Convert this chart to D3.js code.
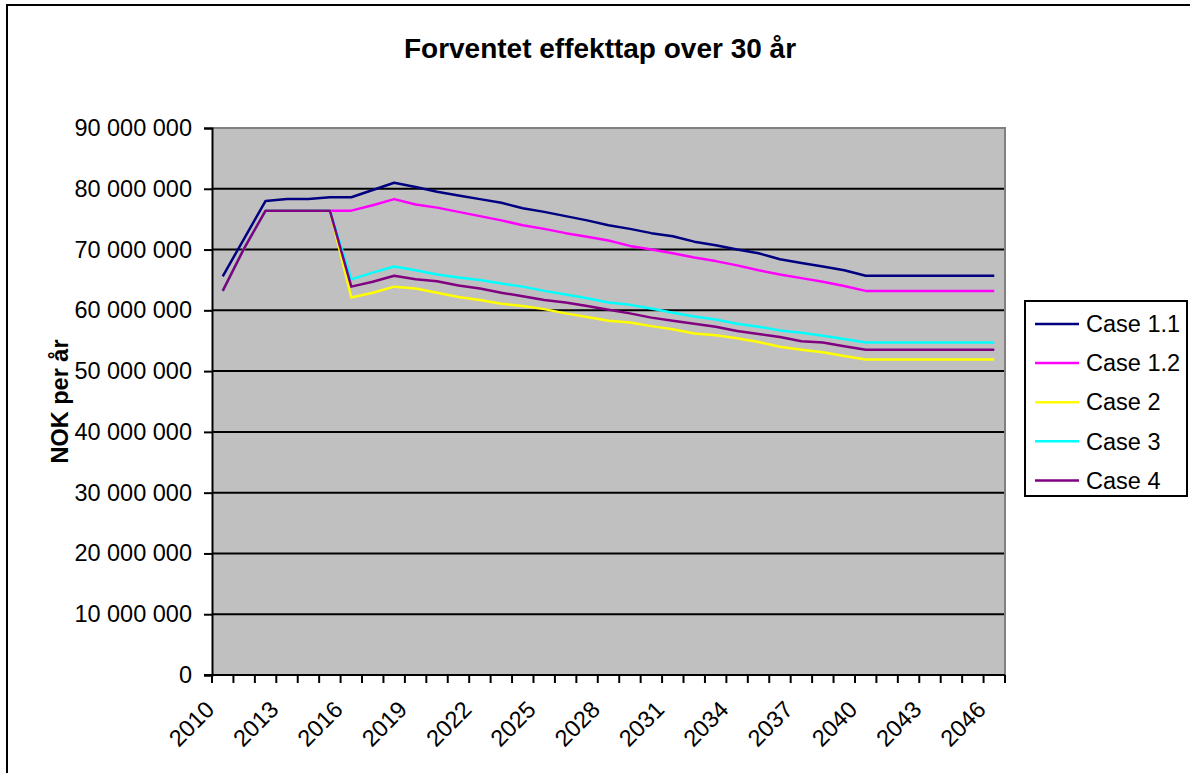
<!DOCTYPE html>
<html>
<head>
<meta charset="utf-8">
<script src="https://cdn.jsdelivr.net/npm/d3@7"></script>
<style>
  html, body { margin: 0; padding: 0; background: #fff; }
  svg { display: block; font-family: Arial, "Liberation Sans", sans-serif; }
</style>
</head>
<body>
<svg id="chart" width="1190" height="773"></svg>
<script>
// Years on the category axis
const years = d3.range(2010, 2047);
// Tick labels shown every third year
const tickYears = [2010, 2013, 2016, 2019, 2022, 2025, 2028, 2031, 2034, 2037, 2040, 2043, 2046];
// Y tick values
const yTicks = [0, 10e6, 20e6, 30e6, 40e6, 50e6, 60e6, 70e6, 80e6, 90e6];

const seriesNames = ["Case 1.1", "Case 1.2", "Case 2", "Case 3", "Case 4"];
const seriesColors = ["#000080", "#FF00FF", "#FFFF00", "#00FFFF", "#800080"];

// Expected loss per year, millions NOK
const case11 = [65.6, 71.8, 78.0, 78.3, 78.3, 78.6, 78.6, 79.8, 81.0, 80.3, 79.5, 78.9, 78.3,
  77.7, 76.8, 76.2, 75.5, 74.8, 74.0, 73.4, 72.7, 72.2, 71.3, 70.7, 70.0, 69.4,
  68.4, 67.8, 67.2, 66.6, 65.7, 65.7, 65.7, 65.7, 65.7, 65.7, 65.7];
const case12 = [63.2, 70.2, 76.4, 76.4, 76.4, 76.4, 76.4, 77.3, 78.3, 77.4, 76.9, 76.2, 75.5,
  74.8, 74.0, 73.4, 72.7, 72.1, 71.5, 70.6, 70.0, 69.4, 68.7, 68.1, 67.4, 66.6,
  65.9, 65.3, 64.7, 64.0, 63.2, 63.2, 63.2, 63.2, 63.2, 63.2, 63.2];
const case2 = [63.2, 70.2, 76.4, 76.4, 76.4, 76.4, 62.1, 62.9, 63.9, 63.6, 62.9, 62.2, 61.7,
  61.1, 60.7, 60.2, 59.5, 58.9, 58.3, 58.0, 57.4, 56.9, 56.2, 55.9, 55.4, 54.8,
  54.0, 53.5, 53.1, 52.5, 51.9, 51.9, 51.9, 51.9, 51.9, 51.9, 51.9];
const case3 = [63.2, 70.2, 76.4, 76.4, 76.4, 76.4, 65.1, 66.2, 67.2, 66.6, 65.9, 65.4, 65.0,
  64.4, 63.9, 63.2, 62.6, 62.0, 61.3, 60.9, 60.3, 59.6, 59.0, 58.5, 57.8, 57.3,
  56.7, 56.3, 55.8, 55.3, 54.7, 54.7, 54.7, 54.7, 54.7, 54.7, 54.7];
const case4 = [63.2, 70.2, 76.4, 76.4, 76.4, 76.4, 63.9, 64.7, 65.7, 65.1, 64.8, 64.1, 63.6,
  62.9, 62.3, 61.7, 61.3, 60.7, 60.1, 59.5, 58.8, 58.3, 57.8, 57.3, 56.6, 56.1,
  55.6, 54.9, 54.7, 54.1, 53.5, 53.5, 53.5, 53.5, 53.5, 53.5, 53.5];

const seriesValues = [case11, case12, case2, case3, case4];
const series = seriesNames.map((name, i) => ({
  name, color: seriesColors[i],
  points: years.map((yr, j) => ({ year: yr, value: seriesValues[i][j] * 1e6 }))
}));

const svg = d3.select("#chart");
const plot = { left: 212, right: 1005, top: 128, bottom: 675 };
const labelSize = 23.5;

const x = d3.scaleBand().domain(years).range([plot.left, plot.right]).padding(0);
const y = d3.scaleLinear().domain([0, 90e6]).range([plot.bottom, plot.top]);
const cx = d => x(d) + x.bandwidth() / 2;

const nbFormat = d3.formatLocale({ decimal: ",", thousands: " ", grouping: [3], currency: ["", ""] }).format(",d");

// Outer chart border
svg.append("rect").attr("x", 7).attr("y", 5).attr("width", 1200).attr("height", 800)
  .attr("fill", "none").attr("stroke", "#000").attr("stroke-width", 2);

// Plot background
svg.append("rect").attr("x", plot.left).attr("y", plot.top)
  .attr("width", plot.right - plot.left).attr("height", plot.bottom - plot.top)
  .attr("fill", "#C0C0C0");

// Horizontal gridlines
svg.append("g").selectAll("line").data(yTicks.filter(v => v > 0 && v < 90e6)).join("line")
  .attr("x1", plot.left).attr("x2", plot.right)
  .attr("y1", d => y(d)).attr("y2", d => y(d))
  .attr("stroke", "#000").attr("stroke-width", 2);

// Plot frame (top and right)
svg.append("path")
  .attr("d", `M${plot.left},${plot.top}H${plot.right}V${plot.bottom}`)
  .attr("fill", "none").attr("stroke", "#808080").attr("stroke-width", 2);

// Y axis
const yAxis = d3.axisLeft(y).tickValues(yTicks).tickSize(8).tickPadding(12).tickFormat(nbFormat);
const gy = svg.append("g").attr("transform", `translate(${plot.left},0)`).call(yAxis);
gy.select(".domain").attr("stroke", "#000").attr("stroke-width", 2);
gy.selectAll(".tick line").attr("stroke", "#000").attr("stroke-width", 2);
gy.selectAll(".tick text").attr("font-size", labelSize).attr("fill", "#000")
  .attr("font-family", "Arial, 'Liberation Sans', sans-serif");

// X axis: ticks between categories
const edges = years.map(d => x(d)).concat([plot.right]);
const gx = svg.append("g");
gx.selectAll("line.tick").data(edges).join("line")
  .attr("x1", d => d).attr("x2", d => d)
  .attr("y1", plot.bottom).attr("y2", plot.bottom + 8)
  .attr("stroke", "#000").attr("stroke-width", 2);
gx.append("line").attr("x1", plot.left - 8).attr("x2", plot.right)
  .attr("y1", plot.bottom).attr("y2", plot.bottom)
  .attr("stroke", "#000").attr("stroke-width", 2);
gx.selectAll("text").data(tickYears).join("text")
  .attr("transform", d => `translate(${cx(d) - 7},${plot.bottom + 36}) rotate(-45)`)
  .attr("text-anchor", "end")
  .attr("font-size", labelSize).attr("fill", "#000")
  .text(d => d);

// Series lines
const line = d3.line().x(d => cx(d.year)).y(d => y(d.value));
svg.append("g").selectAll("path").data(series).join("path")
  .attr("d", d => line(d.points))
  .attr("fill", "none").attr("stroke", d => d.color)
  .attr("stroke-width", 2.5).attr("stroke-linejoin", "round");

// Title
svg.append("text").attr("x", 600).attr("y", 58).attr("text-anchor", "middle")
  .attr("font-size", 28).attr("font-weight", "bold").text("Forventet effekttap over 30 år");

// Y axis title
svg.append("text").attr("transform", `translate(68,${(plot.top + plot.bottom) / 2}) rotate(-90)`)
  .attr("text-anchor", "middle").attr("font-size", labelSize).attr("font-weight", "bold")
  .text("NOK per år");

// Legend
const lg = svg.append("g");
lg.append("rect").attr("x", 1025).attr("y", 301).attr("width", 162).attr("height", 195)
  .attr("fill", "#fff").attr("stroke", "#000").attr("stroke-width", 2);
const rows = lg.selectAll("g.row").data(series).join("g")
  .attr("transform", (d, i) => `translate(0,${324 + i * 39.1})`);
rows.append("line").attr("x1", 1035).attr("x2", 1079).attr("y1", 0).attr("y2", 0)
  .attr("stroke", d => d.color).attr("stroke-width", 2.5);
rows.append("text").attr("x", 1086).attr("y", 0).attr("dy", "0.35em")
  .attr("font-size", labelSize).attr("fill", "#000").text(d => d.name);
</script>
</body>
</html>
